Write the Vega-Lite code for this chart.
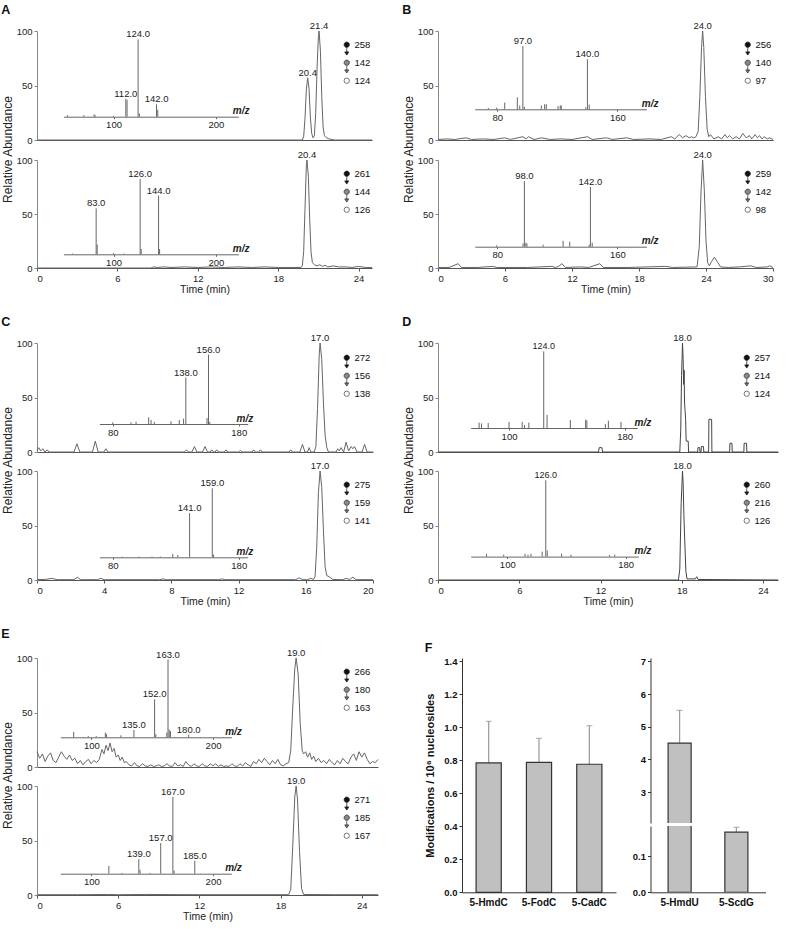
{
"$schema": "https://vega.github.io/schema/vega-lite/v6.json",
"background": "white",
"padding": {"left": 1, "top": 3, "right": 3, "bottom": 3},
"config": {
  "font": "Liberation Sans",
  "view": {"stroke": null},
  "axis": {"grid": false, "tickSize": 3, "labelPadding": 2, "labelFontSize": 9.5, "labelColor": "#222", "titleColor": "#222", "titleFontWeight": "normal", "domainColor": "#888", "tickColor": "#888"},
  "legend": {"labelFontSize": 9.5, "labelColor": "#111", "symbolSize": 28, "symbolStrokeWidth": 0.8, "rowPadding": 0, "padding": 0, "labelOffset": 3, "symbolOpacity": 1},
  "title": {"anchor": "start", "fontSize": 12.5, "fontWeight": "bold", "color": "#111", "offset": 5}
},
"datasets": {
  "fr": [{"mod": "5-HmdU", "value": 4.5, "upper": 5.5}, {"mod": "5-ScdG", "value": 0.167, "upper": 0.18}]
},
"spacing": 20,
"resolve": {"scale": {"fill": "independent", "shape": "independent", "stroke": "independent"}},
"vconcat": [
 {"hconcat": [
  {"title": {"text": "A"}, "spacing": 20, "bounds": "flush", "resolve": {"scale": {"fill": "independent", "shape": "independent", "stroke": "independent"}},
   "vconcat": [
    {"width": 335, "height": 109, "resolve": {"scale": {"x": "independent", "y": "independent"}},
     "layer": [
      {"data": {"values": [{"t":0,"a":0},{"t":19.8,"a":0},{"t":19.9,"a":3},{"t":20.0,"a":20},{"t":20.1,"a":46},{"t":20.2,"a":57,"label":"20.4"},{"t":20.3,"a":47},{"t":20.4,"a":21},{"t":20.5,"a":6},{"t":20.6,"a":2},{"t":20.7,"a":4},{"t":20.8,"a":25},{"t":20.9,"a":66},{"t":21.0,"a":95},{"t":21.05,"a":100,"label":"21.4"},{"t":21.15,"a":82},{"t":21.25,"a":40},{"t":21.35,"a":12},{"t":21.45,"a":4},{"t":21.6,"a":2},{"t":21.8,"a":1},{"t":22.2,"a":0},{"t":25,"a":0}]},
       "encoding": {"x": {"field": "t", "type": "quantitative", "scale": {"domain": [0, 25], "nice": false}, "axis": {"labels": false, "ticks": false, "title": null, "domainColor": "#555"}},
                    "y": {"field": "a", "type": "quantitative", "scale": {"domain": [0, 100]}, "axis": {"values": [0, 50, 100], "title": null}}},
       "layer": [
        {"mark": {"type": "line", "color": "#666", "strokeWidth": 1}},
        {"transform": [{"filter": "isValid(datum.label)"}], "mark": {"type": "text", "dy": -2, "baseline": "alphabetic", "fontSize": 9.5, "color": "#222"}, "encoding": {"text": {"field": "label"}}}
       ]},
      {"data": {"values": [{"mz":55,"i":2},{"mz":71,"i":2},{"mz":81,"i":3},{"mz":82,"i":2},{"mz":100,"i":1},{"mz":112,"i":23,"label":"112.0"},{"mz":113.2,"i":22},{"mz":124,"i":100,"label":"124.0"},{"mz":125.3,"i":4},{"mz":142,"i":16,"label":"142.0"},{"mz":143.2,"i":9}]},
       "encoding": {"x": {"field": "mz", "type": "quantitative", "scale": {"domain": [51, 222], "range": [26.4, 201.4], "nice": false, "zero": false},
                          "axis": {"orient": "bottom", "offset": -23.3, "values": [100, 200], "title": "m/z", "titleX": 212, "titleY": -3, "titleAlign": "right", "titleAngle": 0, "titleBaseline": "alphabetic", "titleFontStyle": "italic", "titleFontWeight": "bold", "titleFontSize": 10, "tickSize": 2, "labelPadding": 1, "domainColor": "#666", "tickColor": "#666"}},
                    "y": {"field": "i", "type": "quantitative", "scale": {"domain": [0, 100], "range": [85.7, 8.4]}, "axis": null}},
       "layer": [
        {"mark": {"type": "rule", "color": "#666", "strokeWidth": 1}, "encoding": {"y2": {"datum": 0}}},
        {"transform": [{"filter": "isValid(datum.label)"}], "mark": {"type": "text", "dy": -2, "baseline": "alphabetic", "fontSize": 9.5, "color": "#222"}, "encoding": {"text": {"field": "label"}}}
       ]},
      {"data": {"values": [{"ion": "258"}, {"ion": "142"}, {"ion": "124"}]},
       "mark": {"type": "point", "filled": true, "opacity": 0, "strokeWidth": 0.8},
       "encoding": {"fill": {"field": "ion", "type": "nominal", "scale": {"domain": ["258", "142", "124"], "range": ["#111", "#888", "#fff"]}, "legend": {"title": null, "orient": "none", "legendX": 305, "legendY": 9}},
                    "stroke": {"field": "ion", "type": "nominal", "scale": {"domain": ["258", "142", "124"], "range": ["#222", "#333", "#555"]}, "legend": {"title": null, "orient": "none", "legendX": 305, "legendY": 9}},
                    "shape": {"field": "ion", "type": "nominal", "scale": {"domain": ["258", "142", "124"], "range": ["M1,0A1,1,0,1,1,-1,0A1,1,0,1,1,1,0ZM0,1.3L0,3.0M-0.75,2.7L0.75,2.7L0,3.9Z", "M1,0A1,1,0,1,1,-1,0A1,1,0,1,1,1,0ZM0,1.3L0,3.0M-0.75,2.7L0.75,2.7L0,3.9Z", "circle"]}, "legend": {"title": null, "orient": "none", "legendX": 305, "legendY": 9}}}}
     ]},
    {"width": 335, "height": 108, "resolve": {"scale": {"x": "independent", "y": "independent"}},
     "layer": [
      {"data": {"values": [{"t":0,"a":0},{"t":8.5,"a":0},{"t":8.7,"a":1},{"t":9,"a":0.5},{"t":9.5,"a":1},{"t":10,"a":0.5},{"t":11,"a":1},{"t":12,"a":0.5},{"t":13,"a":1},{"t":14,"a":0.5},{"t":15,"a":1},{"t":16,"a":0.5},{"t":17,"a":1},{"t":18,"a":0.5},{"t":19.7,"a":0.5},{"t":19.8,"a":2},{"t":19.9,"a":15},{"t":20.0,"a":55},{"t":20.1,"a":95},{"t":20.15,"a":100,"label":"20.4"},{"t":20.25,"a":85},{"t":20.35,"a":45},{"t":20.45,"a":15},{"t":20.55,"a":5},{"t":20.7,"a":3},{"t":20.9,"a":2},{"t":21.1,"a":3},{"t":21.3,"a":1.5},{"t":21.5,"a":2.5},{"t":21.7,"a":1},{"t":22.1,"a":2},{"t":22.5,"a":1},{"t":23.1,"a":1},{"t":23.5,"a":0.5},{"t":24,"a":1.5},{"t":24.5,"a":0.5},{"t":25,"a":0.5}]},
       "encoding": {"x": {"field": "t", "type": "quantitative", "scale": {"domain": [0, 25], "nice": false}, "axis": {"values": [0, 6, 12, 18, 24], "title": "Time (min)", "titleFontSize": 10.5, "titlePadding": 2, "domainColor": "#555", "tickColor": "#555"}},
                    "y": {"field": "a", "type": "quantitative", "scale": {"domain": [0, 100]}, "axis": {"values": [0, 50, 100], "title": "Relative Abundance", "titleY": -11, "titleFontSize": 12, "titlePadding": 2}}},
       "layer": [
        {"mark": {"type": "line", "color": "#666", "strokeWidth": 1}},
        {"transform": [{"filter": "isValid(datum.label)"}], "mark": {"type": "text", "dy": -2, "baseline": "alphabetic", "fontSize": 9.5, "color": "#222"}, "encoding": {"text": {"field": "label"}}}
       ]},
      {"data": {"values": [{"mz":60,"i":1},{"mz":83,"i":61,"label":"83.0"},{"mz":84,"i":13},{"mz":100,"i":1.5},{"mz":110,"i":1},{"mz":126,"i":100,"label":"126.0"},{"mz":127,"i":7},{"mz":144,"i":78,"label":"144.0"},{"mz":145,"i":7}]},
       "encoding": {"x": {"field": "mz", "type": "quantitative", "scale": {"domain": [51, 222], "range": [26.4, 201.4], "nice": false, "zero": false},
                          "axis": {"orient": "bottom", "offset": -13.7, "values": [100, 200], "title": "m/z", "titleX": 212, "titleY": -3, "titleAlign": "right", "titleAngle": 0, "titleBaseline": "alphabetic", "titleFontStyle": "italic", "titleFontWeight": "bold", "titleFontSize": 10, "tickSize": 2, "labelPadding": 1, "domainColor": "#666", "tickColor": "#666"}},
                    "y": {"field": "i", "type": "quantitative", "scale": {"domain": [0, 100], "range": [94.3, 19]}, "axis": null}},
       "layer": [
        {"mark": {"type": "rule", "color": "#666", "strokeWidth": 1}, "encoding": {"y2": {"datum": 0}}},
        {"transform": [{"filter": "isValid(datum.label)"}], "mark": {"type": "text", "dy": -2, "baseline": "alphabetic", "fontSize": 9.5, "color": "#222"}, "encoding": {"text": {"field": "label"}}}
       ]},
      {"data": {"values": [{"ion": "261"}, {"ion": "144"}, {"ion": "126"}]},
       "mark": {"type": "point", "filled": true, "opacity": 0, "strokeWidth": 0.8},
       "encoding": {"fill": {"field": "ion", "type": "nominal", "scale": {"domain": ["261", "144", "126"], "range": ["#111", "#888", "#fff"]}, "legend": {"title": null, "orient": "none", "legendX": 305, "legendY": 9}},
                    "stroke": {"field": "ion", "type": "nominal", "scale": {"domain": ["261", "144", "126"], "range": ["#222", "#333", "#555"]}, "legend": {"title": null, "orient": "none", "legendX": 305, "legendY": 9}},
                    "shape": {"field": "ion", "type": "nominal", "scale": {"domain": ["261", "144", "126"], "range": ["M1,0A1,1,0,1,1,-1,0A1,1,0,1,1,1,0ZM0,1.3L0,3.0M-0.75,2.7L0.75,2.7L0,3.9Z", "M1,0A1,1,0,1,1,-1,0A1,1,0,1,1,1,0ZM0,1.3L0,3.0M-0.75,2.7L0.75,2.7L0,3.9Z", "circle"]}, "legend": {"title": null, "orient": "none", "legendX": 305, "legendY": 9}}}}
     ]}
   ]},
  {"title": {"text": "B"}, "spacing": 20, "bounds": "flush", "resolve": {"scale": {"fill": "independent", "shape": "independent", "stroke": "independent"}},
   "vconcat": [
    {"width": 335, "height": 109, "resolve": {"scale": {"x": "independent", "y": "independent"}},
     "layer": [
      {"data": {"values": [{"t":0,"a":0.5},{"t":0.8,"a":1},{"t":1.5,"a":0.5},{"t":2.5,"a":2},{"t":3,"a":0.5},{"t":4,"a":1},{"t":5,"a":0.5},{"t":5.97,"a":2},{"t":6.5,"a":0.5},{"t":7.6,"a":3},{"t":7.9,"a":1},{"t":8.1,"a":3},{"t":8.6,"a":0.5},{"t":9.3,"a":2},{"t":10,"a":0.5},{"t":11,"a":1},{"t":12,"a":0.5},{"t":13.4,"a":3},{"t":13.8,"a":0.5},{"t":15.1,"a":2},{"t":15.6,"a":0.5},{"t":16.9,"a":2},{"t":17.5,"a":0.5},{"t":19,"a":1},{"t":20,"a":0.5},{"t":20.9,"a":3},{"t":21.2,"a":1},{"t":21.6,"a":5},{"t":21.9,"a":2},{"t":22.2,"a":4},{"t":22.5,"a":2},{"t":22.7,"a":3},{"t":22.9,"a":2},{"t":23.1,"a":3},{"t":23.3,"a":8},{"t":23.45,"a":40},{"t":23.6,"a":85},{"t":23.7,"a":100,"label":"24.0"},{"t":23.8,"a":85},{"t":23.95,"a":40},{"t":24.1,"a":10},{"t":24.25,"a":3},{"t":24.4,"a":5},{"t":24.7,"a":1},{"t":25.1,"a":3},{"t":25.4,"a":1},{"t":25.7,"a":5},{"t":25.9,"a":2},{"t":26.1,"a":4},{"t":26.4,"a":1},{"t":26.7,"a":3},{"t":27,"a":1},{"t":27.3,"a":6},{"t":27.6,"a":2},{"t":27.9,"a":4},{"t":28.1,"a":1},{"t":28.4,"a":5},{"t":28.6,"a":2},{"t":28.8,"a":4},{"t":29,"a":1},{"t":29.2,"a":3},{"t":29.5,"a":1},{"t":29.7,"a":2},{"t":30,"a":0.5}]},
       "encoding": {"x": {"field": "t", "type": "quantitative", "scale": {"domain": [0, 30], "nice": false}, "axis": {"labels": false, "ticks": false, "title": null, "domainColor": "#555"}},
                    "y": {"field": "a", "type": "quantitative", "scale": {"domain": [0, 100]}, "axis": {"values": [0, 50, 100], "title": null}}},
       "layer": [
        {"mark": {"type": "line", "color": "#666", "strokeWidth": 1}},
        {"transform": [{"filter": "isValid(datum.label)"}], "mark": {"type": "text", "dy": -2, "baseline": "alphabetic", "fontSize": 9.5, "color": "#222"}, "encoding": {"text": {"field": "label"}}}
       ]},
      {"data": {"values": [{"mz":74,"i":2},{"mz":79.5,"i":2.6},{"mz":84.9,"i":10.5},{"mz":93.3,"i":19},{"mz":94.9,"i":6},{"mz":97,"i":100,"label":"97.0"},{"mz":98,"i":4},{"mz":109.3,"i":6},{"mz":111.5,"i":8},{"mz":112.6,"i":8},{"mz":120.4,"i":5},{"mz":121.9,"i":6},{"mz":122.6,"i":6},{"mz":138.9,"i":3},{"mz":140,"i":79,"label":"140.0"},{"mz":141.2,"i":7.4}]},
       "encoding": {"x": {"field": "mz", "type": "quantitative", "scale": {"domain": [64.9, 179.3], "range": [36.7, 208.4], "nice": false, "zero": false},
                          "axis": {"orient": "bottom", "offset": -30.7, "values": [80, 160], "title": "m/z", "titleX": 220, "titleY": -3, "titleAlign": "right", "titleAngle": 0, "titleBaseline": "alphabetic", "titleFontStyle": "italic", "titleFontWeight": "bold", "titleFontSize": 10, "tickSize": 2, "labelPadding": 1, "domainColor": "#666", "tickColor": "#666"}},
                    "y": {"field": "i", "type": "quantitative", "scale": {"domain": [0, 100], "range": [78.3, 15]}, "axis": null}},
       "layer": [
        {"mark": {"type": "rule", "color": "#666", "strokeWidth": 1}, "encoding": {"y2": {"datum": 0}}},
        {"transform": [{"filter": "isValid(datum.label)"}], "mark": {"type": "text", "dy": -2, "baseline": "alphabetic", "fontSize": 9.5, "color": "#222"}, "encoding": {"text": {"field": "label"}}}
       ]},
      {"data": {"values": [{"ion": "256"}, {"ion": "140"}, {"ion": "97"}]},
       "mark": {"type": "point", "filled": true, "opacity": 0, "strokeWidth": 0.8},
       "encoding": {"fill": {"field": "ion", "type": "nominal", "scale": {"domain": ["256", "140", "97"], "range": ["#111", "#888", "#fff"]}, "legend": {"title": null, "orient": "none", "legendX": 305, "legendY": 9}},
                    "stroke": {"field": "ion", "type": "nominal", "scale": {"domain": ["256", "140", "97"], "range": ["#222", "#333", "#555"]}, "legend": {"title": null, "orient": "none", "legendX": 305, "legendY": 9}},
                    "shape": {"field": "ion", "type": "nominal", "scale": {"domain": ["256", "140", "97"], "range": ["M1,0A1,1,0,1,1,-1,0A1,1,0,1,1,1,0ZM0,1.3L0,3.0M-0.75,2.7L0.75,2.7L0,3.9Z", "M1,0A1,1,0,1,1,-1,0A1,1,0,1,1,1,0ZM0,1.3L0,3.0M-0.75,2.7L0.75,2.7L0,3.9Z", "circle"]}, "legend": {"title": null, "orient": "none", "legendX": 305, "legendY": 9}}}}
     ]},
    {"width": 335, "height": 108, "resolve": {"scale": {"x": "independent", "y": "independent"}},
     "layer": [
      {"data": {"values": [{"t":0,"a":0.5},{"t":1,"a":0.5},{"t":1.8,"a":4},{"t":2.1,"a":0.5},{"t":3.5,"a":0.5},{"t":4.9,"a":1.5},{"t":5.3,"a":0.5},{"t":8,"a":0.5},{"t":10.2,"a":1.5},{"t":10.5,"a":0.5},{"t":10.8,"a":1.5},{"t":11.1,"a":4},{"t":11.4,"a":0.5},{"t":12.8,"a":1},{"t":13.5,"a":0.5},{"t":14.5,"a":4},{"t":14.8,"a":0.5},{"t":17,"a":0.5},{"t":20.4,"a":1.5},{"t":21,"a":0.5},{"t":23.2,"a":1},{"t":23.4,"a":20},{"t":23.55,"a":70},{"t":23.7,"a":100,"label":"24.0"},{"t":23.85,"a":72},{"t":24.0,"a":25},{"t":24.15,"a":5},{"t":24.3,"a":2},{"t":24.5,"a":6},{"t":24.75,"a":10},{"t":25,"a":6},{"t":25.3,"a":1},{"t":26,"a":0.5},{"t":27,"a":1},{"t":28,"a":2},{"t":28.5,"a":0.5},{"t":29.5,"a":1},{"t":29.7,"a":2},{"t":30,"a":0.5}]},
       "encoding": {"x": {"field": "t", "type": "quantitative", "scale": {"domain": [0, 30], "nice": false}, "axis": {"values": [0, 6, 12, 18, 24, 30], "title": "Time (min)", "titleFontSize": 10.5, "titlePadding": 2, "domainColor": "#555", "tickColor": "#555"}},
                    "y": {"field": "a", "type": "quantitative", "scale": {"domain": [0, 100]}, "axis": {"values": [0, 50, 100], "title": "Relative Abundance", "titleY": -11, "titleFontSize": 12, "titlePadding": 2}}},
       "layer": [
        {"mark": {"type": "line", "color": "#666", "strokeWidth": 1}},
        {"transform": [{"filter": "isValid(datum.label)"}], "mark": {"type": "text", "dy": -2, "baseline": "alphabetic", "fontSize": 9.5, "color": "#222"}, "encoding": {"text": {"field": "label"}}}
       ]},
      {"data": {"values": [{"mz":79.5,"i":2},{"mz":97.1,"i":5},{"mz":98,"i":100,"label":"98.0"},{"mz":99,"i":6},{"mz":99.7,"i":5},{"mz":110.5,"i":3},{"mz":123.8,"i":9},{"mz":128.2,"i":7.6},{"mz":141.2,"i":3},{"mz":142,"i":91,"label":"142.0"},{"mz":143.2,"i":6}]},
       "encoding": {"x": {"field": "mz", "type": "quantitative", "scale": {"domain": [64.9, 179.3], "range": [36.7, 208.4], "nice": false, "zero": false},
                          "axis": {"orient": "bottom", "offset": -21.3, "values": [80, 160], "title": "m/z", "titleX": 220, "titleY": -3, "titleAlign": "right", "titleAngle": 0, "titleBaseline": "alphabetic", "titleFontStyle": "italic", "titleFontWeight": "bold", "titleFontSize": 10, "tickSize": 2, "labelPadding": 1, "domainColor": "#666", "tickColor": "#666"}},
                    "y": {"field": "i", "type": "quantitative", "scale": {"domain": [0, 100], "range": [86.7, 21]}, "axis": null}},
       "layer": [
        {"mark": {"type": "rule", "color": "#666", "strokeWidth": 1}, "encoding": {"y2": {"datum": 0}}},
        {"transform": [{"filter": "isValid(datum.label)"}], "mark": {"type": "text", "dy": -2, "baseline": "alphabetic", "fontSize": 9.5, "color": "#222"}, "encoding": {"text": {"field": "label"}}}
       ]},
      {"data": {"values": [{"ion": "259"}, {"ion": "142"}, {"ion": "98"}]},
       "mark": {"type": "point", "filled": true, "opacity": 0, "strokeWidth": 0.8},
       "encoding": {"fill": {"field": "ion", "type": "nominal", "scale": {"domain": ["259", "142", "98"], "range": ["#111", "#888", "#fff"]}, "legend": {"title": null, "orient": "none", "legendX": 305, "legendY": 9}},
                    "stroke": {"field": "ion", "type": "nominal", "scale": {"domain": ["259", "142", "98"], "range": ["#222", "#333", "#555"]}, "legend": {"title": null, "orient": "none", "legendX": 305, "legendY": 9}},
                    "shape": {"field": "ion", "type": "nominal", "scale": {"domain": ["259", "142", "98"], "range": ["M1,0A1,1,0,1,1,-1,0A1,1,0,1,1,1,0ZM0,1.3L0,3.0M-0.75,2.7L0.75,2.7L0,3.9Z", "M1,0A1,1,0,1,1,-1,0A1,1,0,1,1,1,0ZM0,1.3L0,3.0M-0.75,2.7L0.75,2.7L0,3.9Z", "circle"]}, "legend": {"title": null, "orient": "none", "legendX": 305, "legendY": 9}}}}
     ]}
   ]}
 ], "spacing": 28, "resolve": {"scale": {"fill": "independent", "shape": "independent", "stroke": "independent"}}},
 {"hconcat": [
  {"title": {"text": "C"}, "spacing": 19, "bounds": "flush", "resolve": {"scale": {"fill": "independent", "shape": "independent", "stroke": "independent"}},
   "vconcat": [
    {"width": 336, "height": 109, "resolve": {"scale": {"x": "independent", "y": "independent"}},
     "layer": [
      {"data": {"values": [{"t":0,"a":1},{"t":0.1,"a":4},{"t":0.22,"a":1},{"t":0.35,"a":3},{"t":0.47,"a":0},{"t":0.6,"a":2},{"t":0.72,"a":0},{"t":2.2,"a":0},{"t":2.38,"a":7.5},{"t":2.55,"a":0},{"t":3.3,"a":0},{"t":3.47,"a":10},{"t":3.64,"a":0},{"t":3.98,"a":0},{"t":4.1,"a":3},{"t":4.22,"a":0},{"t":8.78,"a":0},{"t":8.9,"a":2},{"t":9.02,"a":0},{"t":9.22,"a":0},{"t":9.37,"a":5},{"t":9.52,"a":0},{"t":9.85,"a":0},{"t":10.0,"a":5},{"t":10.15,"a":0},{"t":10.3,"a":0},{"t":10.4,"a":2},{"t":10.5,"a":0},{"t":10.6,"a":0},{"t":10.7,"a":2},{"t":10.8,"a":0},{"t":11.15,"a":0},{"t":11.25,"a":2},{"t":11.35,"a":0},{"t":12.0,"a":0},{"t":12.1,"a":1.5},{"t":12.2,"a":0},{"t":12.8,"a":0},{"t":12.9,"a":2},{"t":13.0,"a":0},{"t":13.2,"a":0},{"t":13.3,"a":2},{"t":13.4,"a":0},{"t":15.0,"a":0},{"t":15.1,"a":2},{"t":15.2,"a":0},{"t":15.65,"a":0},{"t":15.8,"a":7},{"t":15.95,"a":0},{"t":16.1,"a":0},{"t":16.2,"a":4},{"t":16.3,"a":0},{"t":16.5,"a":0},{"t":16.6,"a":5},{"t":16.7,"a":40},{"t":16.8,"a":90},{"t":16.85,"a":100,"label":"17.0"},{"t":16.95,"a":85},{"t":17.05,"a":45},{"t":17.15,"a":15},{"t":17.25,"a":4},{"t":17.35,"a":0},{"t":17.8,"a":0},{"t":17.9,"a":3},{"t":18.0,"a":1},{"t":18.1,"a":4},{"t":18.25,"a":0},{"t":18.4,"a":9},{"t":18.55,"a":1},{"t":18.7,"a":5},{"t":18.8,"a":3},{"t":18.9,"a":5},{"t":19.05,"a":0},{"t":19.35,"a":0},{"t":19.5,"a":7},{"t":19.65,"a":0},{"t":20,"a":0}]},
       "encoding": {"x": {"field": "t", "type": "quantitative", "scale": {"domain": [0, 20], "nice": false}, "axis": {"labels": false, "ticks": false, "title": null, "domainColor": "#555"}},
                    "y": {"field": "a", "type": "quantitative", "scale": {"domain": [0, 100]}, "axis": {"values": [0, 50, 100], "title": null}}},
       "layer": [
        {"mark": {"type": "line", "color": "#666", "strokeWidth": 1}},
        {"transform": [{"filter": "isValid(datum.label)"}], "mark": {"type": "text", "dy": -2, "baseline": "alphabetic", "fontSize": 9.5, "color": "#222"}, "encoding": {"text": {"field": "label"}}}
       ]},
      {"data": {"values": [{"mz":80,"i":2.4},{"mz":94.5,"i":2.4},{"mz":98.5,"i":3.4},{"mz":108.5,"i":9.6},{"mz":110.4,"i":5.8},{"mz":113,"i":3},{"mz":126.2,"i":3.9},{"mz":132.8,"i":5.8},{"mz":136.2,"i":7.7},{"mz":138,"i":67,"label":"138.0"},{"mz":154.8,"i":8.7},{"mz":156,"i":100,"label":"156.0"},{"mz":157,"i":3}]},
       "encoding": {"x": {"field": "mz", "type": "quantitative", "scale": {"domain": [69.4, 187.1], "range": [62.4, 210.7], "nice": false, "zero": false},
                          "axis": {"orient": "bottom", "offset": -28, "values": [80, 180], "title": "m/z", "titleX": 215.7, "titleY": -3, "titleAlign": "right", "titleAngle": 0, "titleBaseline": "alphabetic", "titleFontStyle": "italic", "titleFontWeight": "bold", "titleFontSize": 10, "tickSize": 2, "labelPadding": 1, "domainColor": "#666", "tickColor": "#666"}},
                    "y": {"field": "i", "type": "quantitative", "scale": {"domain": [0, 100], "range": [81, 11.7]}, "axis": null}},
       "layer": [
        {"mark": {"type": "rule", "color": "#666", "strokeWidth": 1}, "encoding": {"y2": {"datum": 0}}},
        {"transform": [{"filter": "isValid(datum.label)"}], "mark": {"type": "text", "dy": -2, "baseline": "alphabetic", "fontSize": 9.5, "color": "#222"}, "encoding": {"text": {"field": "label"}}}
       ]},
      {"data": {"values": [{"ion": "272"}, {"ion": "156"}, {"ion": "138"}]},
       "mark": {"type": "point", "filled": true, "opacity": 0, "strokeWidth": 0.8},
       "encoding": {"fill": {"field": "ion", "type": "nominal", "scale": {"domain": ["272", "156", "138"], "range": ["#111", "#888", "#fff"]}, "legend": {"title": null, "orient": "none", "legendX": 305, "legendY": 10}},
                    "stroke": {"field": "ion", "type": "nominal", "scale": {"domain": ["272", "156", "138"], "range": ["#222", "#333", "#555"]}, "legend": {"title": null, "orient": "none", "legendX": 305, "legendY": 10}},
                    "shape": {"field": "ion", "type": "nominal", "scale": {"domain": ["272", "156", "138"], "range": ["M1,0A1,1,0,1,1,-1,0A1,1,0,1,1,1,0ZM0,1.3L0,3.0M-0.75,2.7L0.75,2.7L0,3.9Z", "M1,0A1,1,0,1,1,-1,0A1,1,0,1,1,1,0ZM0,1.3L0,3.0M-0.75,2.7L0.75,2.7L0,3.9Z", "circle"]}, "legend": {"title": null, "orient": "none", "legendX": 305, "legendY": 10}}}}
     ]},
    {"width": 336, "height": 109, "resolve": {"scale": {"x": "independent", "y": "independent"}},
     "layer": [
      {"data": {"values": [{"t":0,"a":0.5},{"t":0.5,"a":0.5},{"t":0.9,"a":1.5},{"t":1.2,"a":0.3},{"t":2.2,"a":0.3},{"t":2.4,"a":2.5},{"t":2.6,"a":0.3},{"t":3.6,"a":0.3},{"t":3.8,"a":1.5},{"t":4.0,"a":0.3},{"t":7.3,"a":0.3},{"t":7.5,"a":1},{"t":7.7,"a":0.3},{"t":10.8,"a":0.3},{"t":11.0,"a":1},{"t":11.2,"a":0.3},{"t":15.4,"a":0.3},{"t":15.6,"a":2},{"t":15.8,"a":0.3},{"t":16.1,"a":0.3},{"t":16.3,"a":1.5},{"t":16.45,"a":0.5},{"t":16.55,"a":3},{"t":16.65,"a":30},{"t":16.75,"a":80},{"t":16.85,"a":100,"label":"17.0"},{"t":16.95,"a":85},{"t":17.05,"a":45},{"t":17.15,"a":12},{"t":17.25,"a":4},{"t":17.4,"a":3},{"t":17.6,"a":0.5},{"t":18.2,"a":0.3},{"t":18.4,"a":1.5},{"t":18.6,"a":0.5},{"t":18.8,"a":2.5},{"t":19.0,"a":0.3},{"t":20,"a":0.3}]},
       "encoding": {"x": {"field": "t", "type": "quantitative", "scale": {"domain": [0, 20], "nice": false}, "axis": {"values": [0, 4, 8, 12, 16, 20], "title": "Time (min)", "titleFontSize": 10.5, "titlePadding": 2, "domainColor": "#555", "tickColor": "#555"}},
                    "y": {"field": "a", "type": "quantitative", "scale": {"domain": [0, 100]}, "axis": {"values": [0, 50, 100], "title": "Relative Abundance", "titleY": -11, "titleFontSize": 12, "titlePadding": 2}}},
       "layer": [
        {"mark": {"type": "line", "color": "#666", "strokeWidth": 1}},
        {"transform": [{"filter": "isValid(datum.label)"}], "mark": {"type": "text", "dy": -2, "baseline": "alphabetic", "fontSize": 9.5, "color": "#222"}, "encoding": {"text": {"field": "label"}}}
       ]},
      {"data": {"values": [{"mz":87.5,"i":1},{"mz":100.7,"i":1},{"mz":111.2,"i":1},{"mz":117.8,"i":1},{"mz":127.6,"i":4.8},{"mz":131.6,"i":3.4},{"mz":141,"i":64,"label":"141.0"},{"mz":159,"i":100,"label":"159.0"},{"mz":160,"i":4}]},
       "encoding": {"x": {"field": "mz", "type": "quantitative", "scale": {"domain": [69.4, 187.1], "range": [62.4, 210.7], "nice": false, "zero": false},
                          "axis": {"orient": "bottom", "offset": -22.7, "values": [80, 180], "title": "m/z", "titleX": 215.7, "titleY": -3, "titleAlign": "right", "titleAngle": 0, "titleBaseline": "alphabetic", "titleFontStyle": "italic", "titleFontWeight": "bold", "titleFontSize": 10, "tickSize": 2, "labelPadding": 1, "domainColor": "#666", "tickColor": "#666"}},
                    "y": {"field": "i", "type": "quantitative", "scale": {"domain": [0, 100], "range": [86.3, 17.3]}, "axis": null}},
       "layer": [
        {"mark": {"type": "rule", "color": "#666", "strokeWidth": 1}, "encoding": {"y2": {"datum": 0}}},
        {"transform": [{"filter": "isValid(datum.label)"}], "mark": {"type": "text", "dy": -2, "baseline": "alphabetic", "fontSize": 9.5, "color": "#222"}, "encoding": {"text": {"field": "label"}}}
       ]},
      {"data": {"values": [{"ion": "275"}, {"ion": "159"}, {"ion": "141"}]},
       "mark": {"type": "point", "filled": true, "opacity": 0, "strokeWidth": 0.8},
       "encoding": {"fill": {"field": "ion", "type": "nominal", "scale": {"domain": ["275", "159", "141"], "range": ["#111", "#888", "#fff"]}, "legend": {"title": null, "orient": "none", "legendX": 305, "legendY": 9}},
                    "stroke": {"field": "ion", "type": "nominal", "scale": {"domain": ["275", "159", "141"], "range": ["#222", "#333", "#555"]}, "legend": {"title": null, "orient": "none", "legendX": 305, "legendY": 9}},
                    "shape": {"field": "ion", "type": "nominal", "scale": {"domain": ["275", "159", "141"], "range": ["M1,0A1,1,0,1,1,-1,0A1,1,0,1,1,1,0ZM0,1.3L0,3.0M-0.75,2.7L0.75,2.7L0,3.9Z", "M1,0A1,1,0,1,1,-1,0A1,1,0,1,1,1,0ZM0,1.3L0,3.0M-0.75,2.7L0.75,2.7L0,3.9Z", "circle"]}, "legend": {"title": null, "orient": "none", "legendX": 305, "legendY": 9}}}}
     ]}
   ]},
  {"title": {"text": "D"}, "spacing": 19, "bounds": "flush", "resolve": {"scale": {"fill": "independent", "shape": "independent", "stroke": "independent"}},
   "vconcat": [
    {"width": 340, "height": 109, "resolve": {"scale": {"x": "independent", "y": "independent"}},
     "layer": [
      {"data": {"values": [{"t":0,"a":0},{"t":11.85,"a":0},{"t":11.9,"a":4},{"t":12.1,"a":4},{"t":12.15,"a":0},{"t":17.85,"a":0},{"t":17.92,"a":20},{"t":17.98,"a":70},{"t":18.05,"a":100,"label":"18.0"},{"t":18.1,"a":85},{"t":18.13,"a":62},{"t":18.17,"a":75},{"t":18.2,"a":45},{"t":18.24,"a":38},{"t":18.28,"a":30},{"t":18.32,"a":10},{"t":18.47,"a":10},{"t":18.5,"a":0},{"t":19.17,"a":0},{"t":19.19,"a":4},{"t":19.32,"a":4},{"t":19.34,"a":0},{"t":19.42,"a":0},{"t":19.44,"a":5},{"t":19.6,"a":5},{"t":19.62,"a":0},{"t":19.98,"a":0},{"t":20.0,"a":30},{"t":20.2,"a":30},{"t":20.22,"a":0},{"t":21.53,"a":0},{"t":21.55,"a":8},{"t":21.7,"a":8},{"t":21.72,"a":0},{"t":22.58,"a":0},{"t":22.6,"a":8},{"t":22.78,"a":8},{"t":22.8,"a":0},{"t":25.1,"a":0}]},
       "encoding": {"x": {"field": "t", "type": "quantitative", "scale": {"domain": [0, 25.1], "nice": false}, "axis": {"labels": false, "ticks": false, "title": null, "domainColor": "#555"}},
                    "y": {"field": "a", "type": "quantitative", "scale": {"domain": [0, 100]}, "axis": {"values": [0, 50, 100], "title": null}}},
       "layer": [
        {"mark": {"type": "line", "color": "#444", "strokeWidth": 1}},
        {"transform": [{"filter": "isValid(datum.label)"}], "mark": {"type": "text", "dy": -2, "baseline": "alphabetic", "fontSize": 9.5, "color": "#222"}, "encoding": {"text": {"field": "label"}}}
       ]},
      {"data": {"values": [{"mz":79.3,"i":7},{"mz":81,"i":6},{"mz":85.6,"i":6.5},{"mz":100,"i":8},{"mz":109.1,"i":8},{"mz":110.7,"i":4},{"mz":113.7,"i":7},{"mz":124,"i":100,"label":"124.0"},{"mz":126.3,"i":17},{"mz":142.4,"i":10.5},{"mz":153,"i":11},{"mz":153.8,"i":10},{"mz":166.6,"i":5},{"mz":168.7,"i":9.5},{"mz":177.4,"i":8}]},
       "encoding": {"x": {"field": "mz", "type": "quantitative", "scale": {"domain": [73.5, 188.7], "range": [32.7, 199.3], "nice": false, "zero": false},
                          "axis": {"orient": "bottom", "offset": -24, "values": [100, 180], "title": "m/z", "titleX": 212.7, "titleY": -3, "titleAlign": "right", "titleAngle": 0, "titleBaseline": "alphabetic", "titleFontStyle": "italic", "titleFontWeight": "bold", "titleFontSize": 10, "tickSize": 2, "labelPadding": 1, "domainColor": "#666", "tickColor": "#666"}},
                    "y": {"field": "i", "type": "quantitative", "scale": {"domain": [0, 100], "range": [85, 8.4]}, "axis": null}},
       "layer": [
        {"mark": {"type": "rule", "color": "#666", "strokeWidth": 1}, "encoding": {"y2": {"datum": 0}}},
        {"transform": [{"filter": "isValid(datum.label)"}], "mark": {"type": "text", "dy": -2, "baseline": "alphabetic", "fontSize": 9, "color": "#222"}, "encoding": {"text": {"field": "label"}}}
       ]},
      {"data": {"values": [{"ion": "257"}, {"ion": "214"}, {"ion": "124"}]},
       "mark": {"type": "point", "filled": true, "opacity": 0, "strokeWidth": 0.8},
       "encoding": {"fill": {"field": "ion", "type": "nominal", "scale": {"domain": ["257", "214", "124"], "range": ["#111", "#888", "#fff"]}, "legend": {"title": null, "orient": "none", "legendX": 304, "legendY": 10}},
                    "stroke": {"field": "ion", "type": "nominal", "scale": {"domain": ["257", "214", "124"], "range": ["#222", "#333", "#555"]}, "legend": {"title": null, "orient": "none", "legendX": 304, "legendY": 10}},
                    "shape": {"field": "ion", "type": "nominal", "scale": {"domain": ["257", "214", "124"], "range": ["M1,0A1,1,0,1,1,-1,0A1,1,0,1,1,1,0ZM0,1.3L0,3.0M-0.75,2.7L0.75,2.7L0,3.9Z", "M1,0A1,1,0,1,1,-1,0A1,1,0,1,1,1,0ZM0,1.3L0,3.0M-0.75,2.7L0.75,2.7L0,3.9Z", "circle"]}, "legend": {"title": null, "orient": "none", "legendX": 304, "legendY": 10}}}}
     ]},
    {"width": 340, "height": 109, "resolve": {"scale": {"x": "independent", "y": "independent"}},
     "layer": [
      {"data": {"values": [{"t":0,"a":0},{"t":17.75,"a":0},{"t":17.85,"a":10},{"t":17.95,"a":70},{"t":18.05,"a":100,"label":"18.0"},{"t":18.1,"a":88},{"t":18.15,"a":60},{"t":18.22,"a":35},{"t":18.3,"a":8},{"t":18.38,"a":1},{"t":18.6,"a":1},{"t":19.0,"a":1},{"t":19.1,"a":3},{"t":19.2,"a":0.5},{"t":25.1,"a":0}]},
       "encoding": {"x": {"field": "t", "type": "quantitative", "scale": {"domain": [0, 25.1], "nice": false}, "axis": {"values": [0, 6, 12, 18, 24], "title": "Time (min)", "titleFontSize": 10.5, "titlePadding": 2, "domainColor": "#555", "tickColor": "#555"}},
                    "y": {"field": "a", "type": "quantitative", "scale": {"domain": [0, 100]}, "axis": {"values": [0, 50, 100], "title": "Relative Abundance", "titleY": -11, "titleFontSize": 12, "titlePadding": 2}}},
       "layer": [
        {"mark": {"type": "line", "color": "#444", "strokeWidth": 1}},
        {"transform": [{"filter": "isValid(datum.label)"}], "mark": {"type": "text", "dy": -2, "baseline": "alphabetic", "fontSize": 9.5, "color": "#222"}, "encoding": {"text": {"field": "label"}}}
       ]},
      {"data": {"values": [{"mz":86,"i":3.5},{"mz":97.6,"i":2.6},{"mz":112,"i":3.5},{"mz":114,"i":2.6},{"mz":116,"i":3.5},{"mz":123.6,"i":6.5},{"mz":126,"i":100,"label":"126.0"},{"mz":127,"i":8},{"mz":136.7,"i":4},{"mz":143,"i":2.6},{"mz":169,"i":2},{"mz":172.6,"i":2.6}]},
       "encoding": {"x": {"field": "mz", "type": "quantitative", "scale": {"domain": [75.3, 188.5], "range": [32.7, 200.3], "nice": false, "zero": false},
                          "axis": {"orient": "bottom", "offset": -23.4, "values": [100, 180], "title": "m/z", "titleX": 212.7, "titleY": -3, "titleAlign": "right", "titleAngle": 0, "titleBaseline": "alphabetic", "titleFontStyle": "italic", "titleFontWeight": "bold", "titleFontSize": 10, "tickSize": 2, "labelPadding": 1, "domainColor": "#666", "tickColor": "#666"}},
                    "y": {"field": "i", "type": "quantitative", "scale": {"domain": [0, 100], "range": [85.6, 9.3]}, "axis": null}},
       "layer": [
        {"mark": {"type": "rule", "color": "#666", "strokeWidth": 1}, "encoding": {"y2": {"datum": 0}}},
        {"transform": [{"filter": "isValid(datum.label)"}], "mark": {"type": "text", "dy": -2, "baseline": "alphabetic", "fontSize": 9, "color": "#222"}, "encoding": {"text": {"field": "label"}}}
       ]},
      {"data": {"values": [{"ion": "260"}, {"ion": "216"}, {"ion": "126"}]},
       "mark": {"type": "point", "filled": true, "opacity": 0, "strokeWidth": 0.8},
       "encoding": {"fill": {"field": "ion", "type": "nominal", "scale": {"domain": ["260", "216", "126"], "range": ["#111", "#888", "#fff"]}, "legend": {"title": null, "orient": "none", "legendX": 304, "legendY": 9}},
                    "stroke": {"field": "ion", "type": "nominal", "scale": {"domain": ["260", "216", "126"], "range": ["#222", "#333", "#555"]}, "legend": {"title": null, "orient": "none", "legendX": 304, "legendY": 9}},
                    "shape": {"field": "ion", "type": "nominal", "scale": {"domain": ["260", "216", "126"], "range": ["M1,0A1,1,0,1,1,-1,0A1,1,0,1,1,1,0ZM0,1.3L0,3.0M-0.75,2.7L0.75,2.7L0,3.9Z", "M1,0A1,1,0,1,1,-1,0A1,1,0,1,1,1,0ZM0,1.3L0,3.0M-0.75,2.7L0.75,2.7L0,3.9Z", "circle"]}, "legend": {"title": null, "orient": "none", "legendX": 304, "legendY": 9}}}}
     ]}
   ]}
 ], "spacing": 27, "resolve": {"scale": {"fill": "independent", "shape": "independent", "stroke": "independent"}}},
 {"hconcat": [
  {"title": {"text": "E", "offset": 8}, "spacing": 19, "bounds": "flush", "resolve": {"scale": {"fill": "independent", "shape": "independent", "stroke": "independent"}},
   "vconcat": [
    {"width": 341, "height": 109, "resolve": {"scale": {"x": "independent", "y": "independent"}},
     "layer": [
      {"data": {"values": [{"t":0,"a":14},{"t":0.2,"a":8},{"t":0.4,"a":12},{"t":0.6,"a":5},{"t":0.8,"a":10},{"t":1.0,"a":13},{"t":1.2,"a":6},{"t":1.4,"a":4},{"t":1.6,"a":9},{"t":1.8,"a":14},{"t":2.0,"a":10},{"t":2.2,"a":7},{"t":2.4,"a":11},{"t":2.6,"a":6},{"t":2.8,"a":8},{"t":3.0,"a":3},{"t":3.2,"a":6},{"t":3.4,"a":2},{"t":3.6,"a":5},{"t":3.8,"a":7},{"t":4.0,"a":3},{"t":4.2,"a":6},{"t":4.4,"a":4},{"t":4.6,"a":7},{"t":4.8,"a":16},{"t":4.95,"a":12},{"t":5.1,"a":20},{"t":5.25,"a":15},{"t":5.4,"a":22},{"t":5.55,"a":14},{"t":5.7,"a":17},{"t":5.85,"a":9},{"t":6.0,"a":11},{"t":6.15,"a":6},{"t":6.3,"a":9},{"t":6.45,"a":4},{"t":6.6,"a":5},{"t":6.8,"a":2},{"t":7.0,"a":1},{"t":7.2,"a":4},{"t":7.4,"a":1},{"t":7.6,"a":0.5},{"t":7.8,"a":3},{"t":8.0,"a":1},{"t":8.2,"a":0.5},{"t":8.4,"a":2},{"t":8.6,"a":0.5},{"t":8.8,"a":1},{"t":9.0,"a":2},{"t":9.2,"a":0.5},{"t":9.4,"a":1},{"t":9.6,"a":3},{"t":9.8,"a":1},{"t":10.0,"a":0.5},{"t":10.2,"a":4},{"t":10.4,"a":1},{"t":10.6,"a":2},{"t":10.8,"a":0.5},{"t":11.0,"a":5},{"t":11.2,"a":2},{"t":11.4,"a":0.5},{"t":11.6,"a":3},{"t":11.8,"a":1},{"t":12.0,"a":0.5},{"t":12.2,"a":3},{"t":12.4,"a":1},{"t":12.6,"a":0.5},{"t":12.8,"a":3},{"t":13.0,"a":1},{"t":13.2,"a":3},{"t":13.4,"a":0.5},{"t":13.6,"a":2},{"t":13.8,"a":0.5},{"t":14.0,"a":1},{"t":14.2,"a":0.5},{"t":14.4,"a":3},{"t":14.6,"a":1},{"t":14.8,"a":0.5},{"t":15.0,"a":3},{"t":15.2,"a":1},{"t":15.4,"a":4},{"t":15.6,"a":2},{"t":15.8,"a":0.5},{"t":16.0,"a":5},{"t":16.2,"a":3},{"t":16.4,"a":7},{"t":16.6,"a":4},{"t":16.8,"a":8},{"t":17.0,"a":5},{"t":17.2,"a":2},{"t":17.4,"a":6},{"t":17.6,"a":3},{"t":17.8,"a":7},{"t":18.0,"a":2},{"t":18.2,"a":1},{"t":18.4,"a":3},{"t":18.6,"a":4},{"t":18.75,"a":15},{"t":18.9,"a":55},{"t":19.05,"a":90},{"t":19.15,"a":100,"label":"19.0"},{"t":19.3,"a":85},{"t":19.45,"a":40},{"t":19.6,"a":15},{"t":19.7,"a":12},{"t":19.85,"a":14},{"t":20.0,"a":9},{"t":20.15,"a":13},{"t":20.3,"a":7},{"t":20.45,"a":10},{"t":20.6,"a":5},{"t":20.8,"a":8},{"t":21.0,"a":4},{"t":21.2,"a":6},{"t":21.4,"a":3},{"t":21.6,"a":7},{"t":21.8,"a":4},{"t":22.0,"a":2},{"t":22.2,"a":6},{"t":22.4,"a":3},{"t":22.6,"a":8},{"t":22.8,"a":5},{"t":23.0,"a":3},{"t":23.2,"a":9},{"t":23.4,"a":12},{"t":23.6,"a":6},{"t":23.8,"a":14},{"t":24.0,"a":9},{"t":24.2,"a":13},{"t":24.4,"a":7},{"t":24.6,"a":3},{"t":24.8,"a":5},{"t":25.0,"a":4},{"t":25.2,"a":7}]},
       "encoding": {"x": {"field": "t", "type": "quantitative", "scale": {"domain": [0, 25.2], "nice": false}, "axis": {"labels": false, "ticks": false, "title": null, "domainColor": "#555"}},
                    "y": {"field": "a", "type": "quantitative", "scale": {"domain": [0, 100]}, "axis": {"values": [0, 50, 100], "title": null}}},
       "layer": [
        {"mark": {"type": "line", "color": "#666", "strokeWidth": 1}},
        {"transform": [{"filter": "isValid(datum.label)"}], "mark": {"type": "text", "dy": -2, "baseline": "alphabetic", "fontSize": 9.5, "color": "#222"}, "encoding": {"text": {"field": "label"}}}
       ]},
      {"data": {"values": [{"mz":85.5,"i":7},{"mz":97.5,"i":1.5},{"mz":104,"i":1.5},{"mz":111.5,"i":6},{"mz":112.5,"i":4},{"mz":124.3,"i":2.5},{"mz":135,"i":9.4,"label":"135.0"},{"mz":152,"i":49,"label":"152.0"},{"mz":153,"i":4},{"mz":162,"i":6},{"mz":163,"i":100,"label":"163.0"},{"mz":164,"i":10},{"mz":165,"i":8},{"mz":180,"i":3.4,"label":"180.0"}]},
       "encoding": {"x": {"field": "mz", "type": "quantitative", "scale": {"domain": [74.5, 215], "range": [23.3, 194.3], "nice": false, "zero": false},
                          "axis": {"orient": "bottom", "offset": -29.7, "values": [100, 200], "title": "m/z", "titleX": 204.3, "titleY": -3, "titleAlign": "right", "titleAngle": 0, "titleBaseline": "alphabetic", "titleFontStyle": "italic", "titleFontWeight": "bold", "titleFontSize": 10, "tickSize": 2, "labelPadding": 1, "domainColor": "#666", "tickColor": "#666"}},
                    "y": {"field": "i", "type": "quantitative", "scale": {"domain": [0, 100], "range": [79.3, 1.6]}, "axis": null}},
       "layer": [
        {"mark": {"type": "rule", "color": "#666", "strokeWidth": 1}, "encoding": {"y2": {"datum": 0}}},
        {"transform": [{"filter": "isValid(datum.label)"}], "mark": {"type": "text", "dy": -2, "baseline": "alphabetic", "fontSize": 9.5, "color": "#222"}, "encoding": {"text": {"field": "label"}}}
       ]},
      {"data": {"values": [{"ion": "266"}, {"ion": "180"}, {"ion": "163"}]},
       "mark": {"type": "point", "filled": true, "opacity": 0, "strokeWidth": 0.8},
       "encoding": {"fill": {"field": "ion", "type": "nominal", "scale": {"domain": ["266", "180", "163"], "range": ["#111", "#888", "#fff"]}, "legend": {"title": null, "orient": "none", "legendX": 305, "legendY": 9}},
                    "stroke": {"field": "ion", "type": "nominal", "scale": {"domain": ["266", "180", "163"], "range": ["#222", "#333", "#555"]}, "legend": {"title": null, "orient": "none", "legendX": 305, "legendY": 9}},
                    "shape": {"field": "ion", "type": "nominal", "scale": {"domain": ["266", "180", "163"], "range": ["M1,0A1,1,0,1,1,-1,0A1,1,0,1,1,1,0ZM0,1.3L0,3.0M-0.75,2.7L0.75,2.7L0,3.9Z", "M1,0A1,1,0,1,1,-1,0A1,1,0,1,1,1,0ZM0,1.3L0,3.0M-0.75,2.7L0.75,2.7L0,3.9Z", "circle"]}, "legend": {"title": null, "orient": "none", "legendX": 305, "legendY": 9}}}}
     ]},
    {"width": 341, "height": 109, "resolve": {"scale": {"x": "independent", "y": "independent"}},
     "layer": [
      {"data": {"values": [{"t":0,"a":0.3},{"t":3,"a":0.3},{"t":5.2,"a":0.5},{"t":6,"a":0.3},{"t":8,"a":0.5},{"t":12,"a":0.3},{"t":15,"a":0.3},{"t":18.6,"a":0.3},{"t":18.75,"a":5},{"t":18.9,"a":45},{"t":19.05,"a":90},{"t":19.15,"a":100,"label":"19.0"},{"t":19.25,"a":88},{"t":19.4,"a":40},{"t":19.55,"a":6},{"t":19.7,"a":0.5},{"t":22,"a":0.3},{"t":25.2,"a":0.3}]},
       "encoding": {"x": {"field": "t", "type": "quantitative", "scale": {"domain": [0, 25.2], "nice": false}, "axis": {"values": [0, 6, 12, 18, 24], "title": "Time (min)", "titleFontSize": 10.5, "titlePadding": 2, "domainColor": "#555", "tickColor": "#555"}},
                    "y": {"field": "a", "type": "quantitative", "scale": {"domain": [0, 100]}, "axis": {"values": [0, 50, 100], "title": "Relative Abundance", "titleY": -11, "titleFontSize": 12, "titlePadding": 2}}},
       "layer": [
        {"mark": {"type": "line", "color": "#666", "strokeWidth": 1}},
        {"transform": [{"filter": "isValid(datum.label)"}], "mark": {"type": "text", "dy": -2, "baseline": "alphabetic", "fontSize": 9.5, "color": "#222"}, "encoding": {"text": {"field": "label"}}}
       ]},
      {"data": {"values": [{"mz":114.4,"i":10},{"mz":125,"i":1},{"mz":139,"i":19,"label":"139.0"},{"mz":140,"i":5},{"mz":148,"i":1},{"mz":157,"i":40,"label":"157.0"},{"mz":167,"i":100,"label":"167.0"},{"mz":168,"i":4},{"mz":185,"i":17,"label":"185.0"}]},
       "encoding": {"x": {"field": "mz", "type": "quantitative", "scale": {"domain": [74.5, 215], "range": [23.3, 194.3], "nice": false, "zero": false},
                          "axis": {"orient": "bottom", "offset": -21.3, "values": [100, 200], "title": "m/z", "titleX": 204.3, "titleY": -3, "titleAlign": "right", "titleAngle": 0, "titleBaseline": "alphabetic", "titleFontStyle": "italic", "titleFontWeight": "bold", "titleFontSize": 10, "tickSize": 2, "labelPadding": 1, "domainColor": "#666", "tickColor": "#666"}},
                    "y": {"field": "i", "type": "quantitative", "scale": {"domain": [0, 100], "range": [87.7, 11]}, "axis": null}},
       "layer": [
        {"mark": {"type": "rule", "color": "#666", "strokeWidth": 1}, "encoding": {"y2": {"datum": 0}}},
        {"transform": [{"filter": "isValid(datum.label)"}], "mark": {"type": "text", "dy": -2, "baseline": "alphabetic", "fontSize": 9.5, "color": "#222"}, "encoding": {"text": {"field": "label"}}}
       ]},
      {"data": {"values": [{"ion": "271"}, {"ion": "185"}, {"ion": "167"}]},
       "mark": {"type": "point", "filled": true, "opacity": 0, "strokeWidth": 0.8},
       "encoding": {"fill": {"field": "ion", "type": "nominal", "scale": {"domain": ["271", "185", "167"], "range": ["#111", "#888", "#fff"]}, "legend": {"title": null, "orient": "none", "legendX": 305, "legendY": 9}},
                    "stroke": {"field": "ion", "type": "nominal", "scale": {"domain": ["271", "185", "167"], "range": ["#222", "#333", "#555"]}, "legend": {"title": null, "orient": "none", "legendX": 305, "legendY": 9}},
                    "shape": {"field": "ion", "type": "nominal", "scale": {"domain": ["271", "185", "167"], "range": ["M1,0A1,1,0,1,1,-1,0A1,1,0,1,1,1,0ZM0,1.3L0,3.0M-0.75,2.7L0.75,2.7L0,3.9Z", "M1,0A1,1,0,1,1,-1,0A1,1,0,1,1,1,0ZM0,1.3L0,3.0M-0.75,2.7L0.75,2.7L0,3.9Z", "circle"]}, "legend": {"title": null, "orient": "none", "legendX": 305, "legendY": 9}}}}
     ]}
   ]},
  {"title": {"text": ["", "F"], "lineHeight": 12, "offset": 2}, "spacing": 15.5,
   "hconcat": [
    {"width": 154, "height": 234.3,
     "data": {"values": [{"mod": "5-HmdC", "value": 0.784, "upper": 1.036}, {"mod": "5-FodC", "value": 0.788, "upper": 0.933}, {"mod": "5-CadC", "value": 0.776, "upper": 1.01}]},
     "encoding": {"x": {"field": "mod", "type": "nominal", "sort": null, "scale": {"paddingInner": 0.5, "paddingOuter": 0.28}, "axis": {"title": null, "ticks": false, "labelAngle": 0, "labelFontWeight": "bold", "labelFontSize": 10, "labelColor": "#111", "labelPadding": 5, "domainColor": "#333"}},
                  "y": {"field": "value", "type": "quantitative", "scale": {"domain": [0, 1.42], "nice": false}, "axis": {"values": [0, 0.2, 0.4, 0.6, 0.8, 1.0, 1.2, 1.4], "format": ".1f", "title": "Modifications / 10⁶ nucleosides", "titleFontWeight": "bold", "titleFontSize": 11, "titleColor": "#111", "titlePadding": 8, "labelFontWeight": "bold", "labelColor": "#111", "domainColor": "#333", "tickColor": "#333"}}},
     "layer": [
      {"mark": {"type": "rule", "color": "#999", "strokeWidth": 1.2}, "encoding": {"y2": {"field": "upper"}}},
      {"mark": {"type": "bar", "fill": "#c0c0c0", "stroke": "#333", "strokeWidth": 1.2}},
      {"mark": {"type": "tick", "color": "#999", "size": 6, "thickness": 1.2},
       "encoding": {"y": {"field": "upper", "type": "quantitative", "scale": {"domain": [0, 1.42], "nice": false}, "axis": {"values": [0, 0.2, 0.4, 0.6, 0.8, 1.0, 1.2, 1.4], "format": ".1f", "title": "Modifications / 10⁶ nucleosides", "titleFontWeight": "bold", "titleFontSize": 11, "titleColor": "#111", "titlePadding": 8, "labelFontWeight": "bold", "labelColor": "#111", "domainColor": "#333", "tickColor": "#333"}}}}
     ]},
    {"spacing": 3, "bounds": "flush",
     "vconcat": [
      {"width": 115, "height": 165, "data": {"name": "fr"},
       "encoding": {"x": {"field": "mod", "type": "nominal", "sort": null, "scale": {"paddingInner": 0.594, "paddingOuter": 0.31}, "axis": null},
                    "y": {"field": "value", "type": "quantitative", "scale": {"domain": [2.06, 7.1], "nice": false, "zero": false}, "axis": {"values": [3, 4, 5, 6, 7], "format": "d", "title": null, "labelFontWeight": "bold", "labelColor": "#111", "domainColor": "#333", "tickColor": "#333"}}},
       "layer": [
        {"mark": {"type": "rule", "color": "#999", "strokeWidth": 1.2, "clip": true}, "encoding": {"y2": {"field": "upper"}}},
        {"mark": {"type": "bar", "fill": "#c0c0c0", "stroke": "#333", "strokeWidth": 1.2, "clip": true}, "encoding": {"y2": {"datum": 0}}},
        {"mark": {"type": "tick", "color": "#999", "size": 6, "thickness": 1.2, "clip": true},
         "encoding": {"y": {"field": "upper", "type": "quantitative", "scale": {"domain": [2.06, 7.1], "nice": false, "zero": false}, "axis": {"values": [3, 4, 5, 6, 7], "format": "d", "title": null, "labelFontWeight": "bold", "labelColor": "#111", "domainColor": "#333", "tickColor": "#333"}}}}
       ]},
      {"width": 115, "height": 66.3, "data": {"name": "fr"},
       "encoding": {"x": {"field": "mod", "type": "nominal", "sort": null, "scale": {"paddingInner": 0.594, "paddingOuter": 0.31}, "axis": {"title": null, "ticks": false, "labelAngle": 0, "labelFontWeight": "bold", "labelFontSize": 10, "labelColor": "#111", "labelPadding": 5, "domainColor": "#333"}},
                    "y": {"field": "value", "type": "quantitative", "scale": {"domain": [0, 0.184], "nice": false}, "axis": {"values": [0, 0.1], "format": ".1f", "title": null, "labelFontWeight": "bold", "labelColor": "#111", "domainColor": "#333", "tickColor": "#333"}}},
       "layer": [
        {"mark": {"type": "rule", "color": "#999", "strokeWidth": 1.2, "clip": true}, "encoding": {"y2": {"field": "upper"}}},
        {"mark": {"type": "bar", "fill": "#c0c0c0", "stroke": "#333", "strokeWidth": 1.2, "clip": true}, "encoding": {"y2": {"datum": 0}}},
        {"mark": {"type": "tick", "color": "#999", "size": 6, "thickness": 1.2, "clip": true},
         "encoding": {"y": {"field": "upper", "type": "quantitative", "scale": {"domain": [0, 0.184], "nice": false}, "axis": {"values": [0, 0.1], "format": ".1f", "title": null, "labelFontWeight": "bold", "labelColor": "#111", "domainColor": "#333", "tickColor": "#333"}}}}
       ]}
     ]}
   ]}
 ], "spacing": 44, "resolve": {"scale": {"fill": "independent", "shape": "independent", "stroke": "independent"}}}
]
}
